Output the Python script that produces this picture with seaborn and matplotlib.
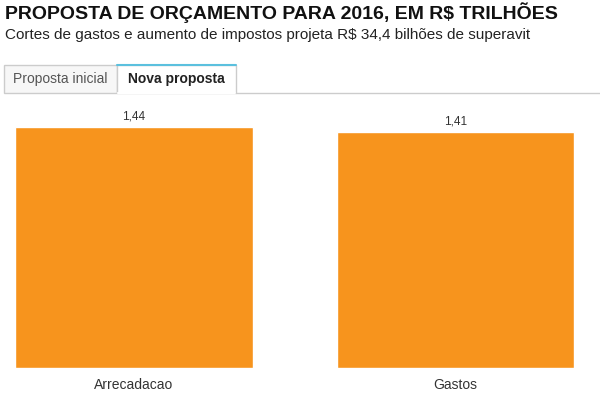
import matplotlib
matplotlib.use("Agg")
import matplotlib.pyplot as plt
import seaborn as sns
from matplotlib.patches import Rectangle
from matplotlib.lines import Line2D

# Data
categorias = ["Arrecadacao", "Gastos"]
valores = [1.44, 1.41]
abas = ["Proposta inicial", "Nova proposta"]

titulo = "PROPOSTA DE ORÇAMENTO PARA 2016, EM R$ TRILHÕES"
subtitulo = "Cortes de gastos e aumento de impostos projeta R$ 34,4 bilhões de superavit"

W, H = 600, 397
sns.set_style("white")
plt.rcParams["font.family"] = ["Liberation Sans", "DejaVu Sans"]

fig = plt.figure(figsize=(W / 100, H / 100), dpi=100)


def fx(px):
    return px / W


def fy(py):
    return 1 - py / H


# Header
fig.text(fx(5), fy(13), titulo, fontsize=14, fontweight="bold", color="#111111", va="center")
fig.text(fx(5), fy(35), subtitulo, fontsize=11, color="#222222", va="center")

# Tabs
fig.patches.append(Rectangle((fx(4), fy(93)), fx(113), 28 / H, transform=fig.transFigure,
                             facecolor="#f7f7f7", edgecolor="#cccccc", linewidth=1))
fig.patches.append(Rectangle((fx(117), fy(93)), fx(119), 28 / H, transform=fig.transFigure,
                             facecolor="white", edgecolor="#cccccc", linewidth=1))
fig.lines.append(Line2D([fx(117), fx(236)], [fy(65), fy(65)], transform=fig.transFigure,
                        color="#5bc0de", linewidth=1.5))
fig.lines.append(Line2D([fx(118), fx(235)], [fy(93), fy(93)], transform=fig.transFigure,
                        color="white", linewidth=1.5))
fig.lines.append(Line2D([fx(236), fx(600)], [fy(93), fy(93)], transform=fig.transFigure,
                        color="#cccccc", linewidth=1))
fig.text(fx(60.5), fy(79), abas[0], fontsize=10, color="#555555", ha="center", va="center")
fig.text(fx(176.5), fy(79), abas[1], fontsize=10, fontweight="bold", color="#222222",
         ha="center", va="center")

# Bars
ax = fig.add_axes([0, (H - 368) / H, 1, (368 - 110) / H])
sns.barplot(x=categorias, y=valores, color="#F7941D", saturation=1, width=0.74, ax=ax)
ax.set_xlim(-134 / 321.5, (600 - 134) / 321.5)
ax.set_ylim(0, 258 / 167.4)
for c in ax.containers:
    ax.bar_label(c, labels=[f"{v:.2f}".replace(".", ",") for v in valores],
                 padding=3, fontsize=8.5, color="#333333")
ax.set_yticks([])
ax.tick_params(axis="x", length=0, pad=7, labelsize=10, labelcolor="#333333")
for s in ax.spines.values():
    s.set_visible(False)
ax.set_xlabel("")
ax.set_ylabel("")

fig.savefig("out.png", dpi=100)
